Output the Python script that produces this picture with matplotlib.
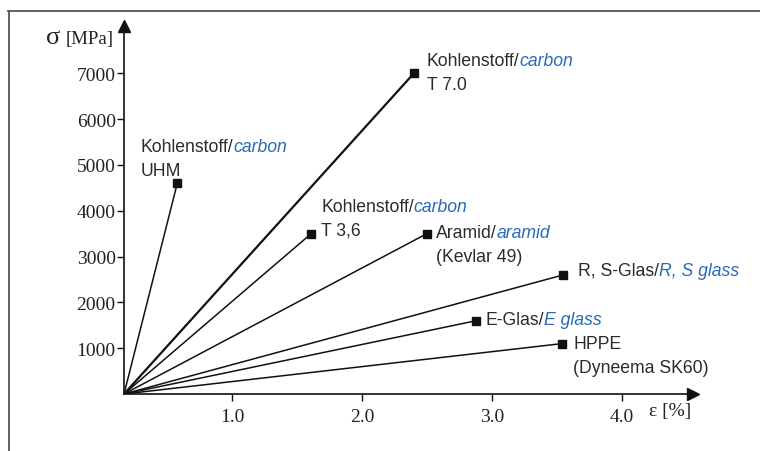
import matplotlib.pyplot as plt
from matplotlib.lines import Line2D

# values
fibres = ["UHM", "T 7.0", "T 3,6", "Aramid", "R, S", "E", "HPPE"]
strain = [0.58, 2.40, 1.61, 2.50, 3.55, 2.88, 3.54]      # eps [%]
stress = [4600, 7000, 3500, 3500, 2600, 1600, 1100]      # sigma [MPa]
names = ["Kohlenstoff/", "Kohlenstoff/", "Kohlenstoff/", "Aramid/", "R, S-Glas/", "E-Glas/", "HPPE"]
names_en = ["carbon", "carbon", "carbon", "aramid", "R, S glass", "E glass", None]
second_line = ["UHM", "T 7.0", "T 3,6", "(Kevlar 49)", None, None, "(Dyneema SK60)"]
x_ticks = [1.0, 2.0, 3.0, 4.0]
y_ticks = [1000, 2000, 3000, 4000, 5000, 6000, 7000]

# label offsets in pixels from the marker (baseline-left of text)
offsets = [(-37, 32), (13, 8), (10, 23), (9, -3), (15, 0), (9, -3), (11, -4)]
line_gap = 24

W, H = 760, 452
fig = plt.figure(figsize=(W / 100, H / 100), dpi=100)
ax = fig.add_axes([124 / W, (H - 395) / H, (693 - 124) / W, (395 - 27) / H])

x0 = 0.17   # where the drawn axes cross
ax.set_xlim(x0, 4.546)
ax.set_ylim(0, 8030)

txt = "#2b2b2b"
blue = "#2a6bb5"
sans = ["Liberation Sans Narrow", "Liberation Sans", "DejaVu Sans"]
serif = ["Liberation Serif", "DejaVu Serif"]
fs = 12.7

for i in range(len(fibres)):
    lw = 1.6 if fibres[i] == "T 7.0" else 1.1
    ax.plot([x0, strain[i]], [0, stress[i]], color="#111111", lw=lw,
            solid_capstyle="butt", zorder=2)
    ax.plot(strain[i], stress[i], "s", color="#111111", ms=6, zorder=3)
    dx, dy = offsets[i]
    t1 = ax.annotate(names[i], (strain[i], stress[i]), xytext=(dx, dy),
                     textcoords="offset pixels", ha="left", va="baseline",
                     fontsize=fs, color=txt, family=sans)
    if names_en[i]:
        ax.annotate(names_en[i], xy=(1, 0), xycoords=t1, ha="left", va="bottom",
                    fontsize=fs, color=blue, style="italic", family=sans)
    if second_line[i]:
        ax.annotate(second_line[i], (strain[i], stress[i]), xytext=(dx, dy - line_gap),
                    textcoords="offset pixels", ha="left", va="baseline",
                    fontsize=fs, color=txt, family=sans)

# axes with arrows
for s in ["top", "right"]:
    ax.spines[s].set_visible(False)
for s in ["left", "bottom"]:
    ax.spines[s].set_linewidth(1.2)
    ax.spines[s].set_color("#111111")
ax.plot(1, 0, ">", color="#111111", ms=9, transform=ax.transAxes, clip_on=False)
ax.plot(0, 1, "^", color="#111111", ms=9, transform=ax.transAxes, clip_on=False)

ax.set_xticks(x_ticks)
ax.set_xticklabels([f"{v:.1f}" for v in x_ticks])
ax.set_yticks(y_ticks)
ax.tick_params(length=5, width=1, color="#111111", labelcolor="#222222", labelsize=14)
ax.tick_params(axis="x", pad=5)
ax.tick_params(axis="y", pad=1)
for lab in ax.get_xticklabels() + ax.get_yticklabels():
    lab.set_family(serif)

# axis titles
fig.text(46 / W, 1 - 44 / H, "σ", fontsize=19, family=serif, color="#222222", va="baseline")
fig.text(66 / W, 1 - 44 / H, "[MPa]", fontsize=13.5, family=serif, color="#222222", va="baseline")
fig.text(649 / W, 1 - 416 / H, "ε [%]", fontsize=14, family=serif, color="#222222", va="baseline")

# open frame round the figure
fig.add_artist(Line2D([8.5 / W, 8.5 / W], [1 - 12 / H, 0], transform=fig.transFigure,
                      color="#555555", lw=1.3))
fig.add_artist(Line2D([8 / W, 1], [1 - 12 / H, 1 - 12 / H], transform=fig.transFigure,
                      color="#555555", lw=1.3))

fig.savefig("out.png", dpi=100)
